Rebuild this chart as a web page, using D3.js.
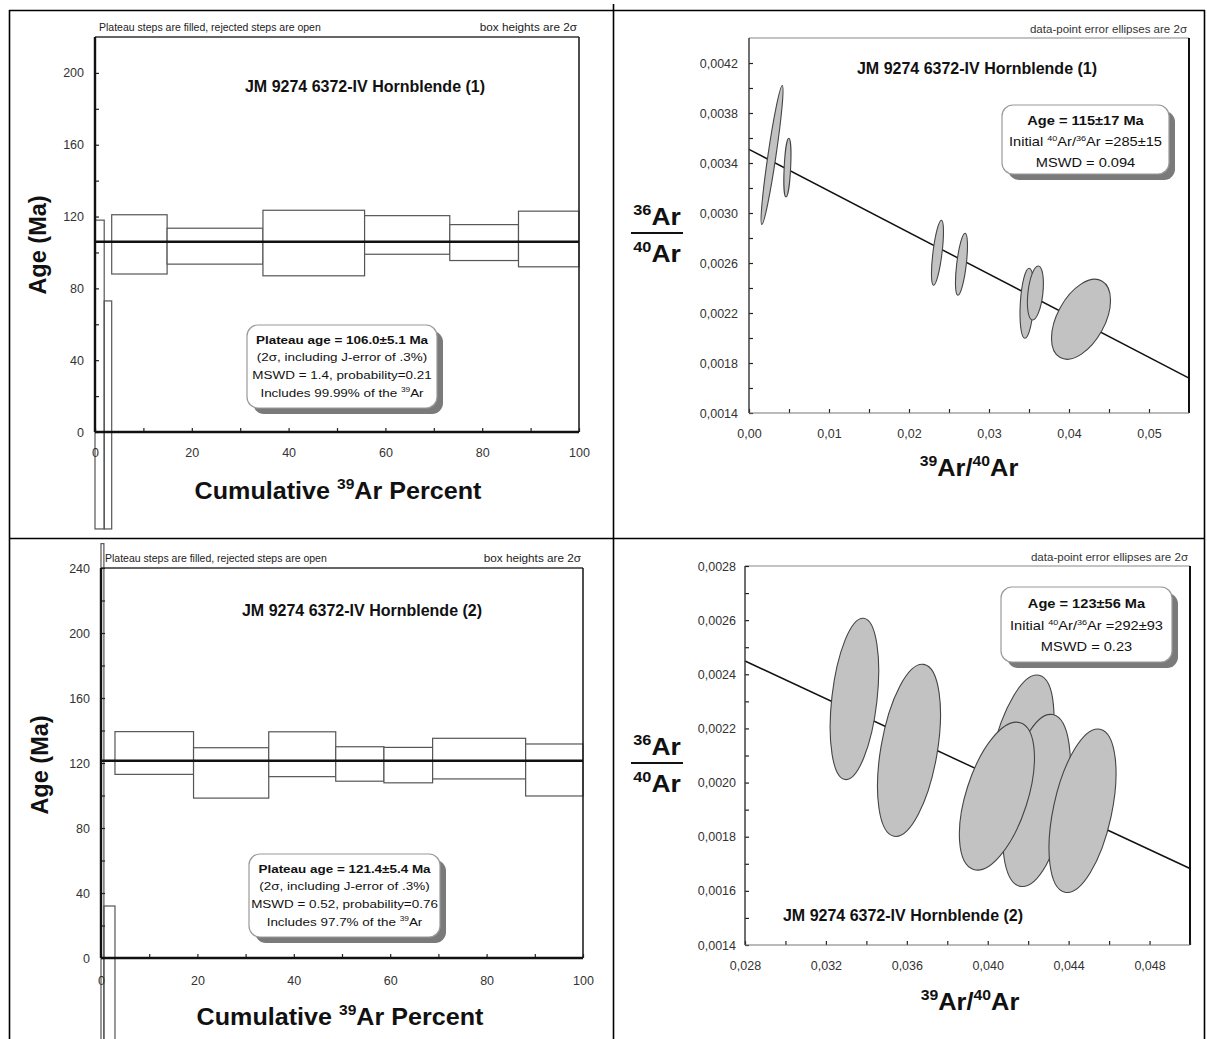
<!DOCTYPE html>
<html>
<head>
<meta charset="utf-8">
<script src="https://cdn.jsdelivr.net/npm/d3@7"></script>
<style>
  body { margin: 0; background: #fff; }
  svg { display: block; }
  text { font-family: "Liberation Sans", Arial, Helvetica, sans-serif; }
</style>
</head>
<body>
<svg id="fig" width="1207" height="1039"></svg>
<script>
// ---------- Step-heating age spectra (cumulative 39Ar %, 2-sigma age bounds in Ma) ----------
const spec1Edges   = [0, 1.9, 3.45, 14.9, 34.7, 55.7, 73.3, 87.5, 100];
const spec1High    = [118, 73, 121, 113.5, 123.5, 120.5, 115.5, 123];
const spec1Low     = [-54, -54, 88, 93.5, 87, 99, 95.5, 92];
const spec1Plateau = [false, false, true, true, true, true, true, true];
const plateauAge1  = 106.0;

const spec2Edges   = [0, 0.6, 2.9, 19.2, 34.8, 48.7, 58.7, 68.8, 88.1, 100];
const spec2High    = [255, 32, 139.3, 129.4, 139.2, 130, 129.6, 135.2, 131.7];
const spec2Low     = [-60, -60, 113, 98.4, 111.6, 108.8, 107.8, 110.2, 99.7];
const spec2Plateau = [false, false, true, true, true, true, true, true, true];
const plateauAge2  = 121.4;

const ageTicks1   = [0, 40, 80, 120, 160, 200];
const ageMinor1   = [20, 60, 100, 140, 180];
const ageTicks2   = [0, 40, 80, 120, 160, 200, 240];
const ageMinor2   = [20, 60, 100, 140, 180, 220];
const cumTicks    = [0, 20, 40, 60, 80, 100];
const cumMinor    = [10, 30, 50, 70, 90];

// ---------- Inverse isochrons (39Ar/40Ar vs 36Ar/40Ar, 2-sigma ellipses) ----------
const iso1X   = [0.00288, 0.0048, 0.02356, 0.02656, 0.03475, 0.0358, 0.0415];
const iso1Y   = [0.003464, 0.003363, 0.002682, 0.00259, 0.002278, 0.00236, 0.00215];
const iso1Ex  = [0.001375, 0.00044, 0.00075, 0.00075, 0.000875, 0.001, 0.00369];
const iso1Ey  = [0.000556, 0.000235, 0.00026, 0.000248, 0.00028, 0.000216, 0.00032];
const iso1Rho = [0.93, 0.4, 0.65, 0.6, 0.3, 0.35, 0.475];
const iso1Initial    = 285;
const iso1XIntercept = 0.1055;
const iso1XTicks = [0, 0.01, 0.02, 0.03, 0.04, 0.05];
const iso1XMinor = [0.005, 0.015, 0.025, 0.035, 0.045];
const iso1YTicks = [0.0014, 0.0018, 0.0022, 0.0026, 0.0030, 0.0034, 0.0038, 0.0042];
const iso1YMinor = [0.0016, 0.0020, 0.0024, 0.0028, 0.0032, 0.0036, 0.0040];

const iso2X   = [0.03341, 0.036108, 0.041596, 0.042412, 0.040454, 0.044686];
const iso2Y   = [0.002309, 0.002119, 0.002083, 0.001934, 0.00195, 0.001896];
const iso2Ex  = [0.0012, 0.001557, 0.00168, 0.001676, 0.001856, 0.001656];
const iso2Ey  = [0.000298, 0.000318, 0.000314, 0.000318, 0.000273, 0.000302];
const iso2Rho = [0.35, 0.42, 0.5, 0.42, 0.52, 0.46];
const iso2Initial    = 292;
const iso2XIntercept = 0.0983;
const iso2XTicks = [0.028, 0.032, 0.036, 0.040, 0.044, 0.048];
const iso2XMinor = [0.030, 0.034, 0.038, 0.042, 0.046, 0.050];
const iso2YTicks = [0.0014, 0.0016, 0.0018, 0.0020, 0.0022, 0.0024, 0.0026, 0.0028];
const iso2YMinor = [0.0015, 0.0017, 0.0019, 0.0021, 0.0023, 0.0025, 0.0027];

// ---------- drawing ----------
const svg = d3.select("#fig");
svg.append("rect").attr("width", 1207).attr("height", 1039).attr("fill", "#fff");

const locale = d3.formatLocale({ decimal: ",", thousands: ".", grouping: [3], currency: ["", ""] });

// text with superscript pieces: parts = ["plain", {sup:"39"}, "Ar"]; optional horizontal stretch sx
function rich(g, x, y, parts, o) {
  const size = o.size;
  const t = g.append("text")
    .attr("text-anchor", o.anchor || "middle")
    .attr("font-size", size)
    .attr("font-weight", o.bold ? "bold" : "normal")
    .attr("fill", o.fill || "#000");
  if (o.sx) t.attr("x", 0).attr("y", 0).attr("transform", `translate(${x},${y}) scale(${o.sx},1)`);
  else t.attr("x", x).attr("y", y);
  let raised = false;
  parts.forEach(p => {
    if (typeof p === "string") {
      const s = t.append("tspan").text(p);
      if (raised) { s.attr("dy", size * 0.42); raised = false; }
    } else {
      t.append("tspan").attr("font-size", size * 0.62).attr("dy", -size * 0.42).text(p.sup);
      raised = true;
    }
  });
  return t;
}

function infoBox(g, x, y, w, h, lines, size, sx) {
  g.append("rect").attr("x", x + 6).attr("y", y + 6).attr("width", w).attr("height", h)
    .attr("rx", 11).attr("fill", "#7a7a7a");
  g.append("rect").attr("x", x).attr("y", y).attr("width", w).attr("height", h)
    .attr("rx", 11).attr("fill", "#fff").attr("stroke", "#9a9a9a").attr("stroke-width", 1.2);
  lines.forEach(l => rich(g, x + w / 2, l.y, l.parts, { size: size, bold: l.bold, fill: "#111", sx: sx }));
}

function styleAxis(sel, fontSize) {
  sel.select(".domain").remove();
  sel.selectAll(".tick line").attr("stroke", "#222").attr("stroke-width", 1.2);
  sel.selectAll(".tick text").attr("fill", "#333").attr("font-size", fontSize)
    .attr("font-family", "'Liberation Sans', Arial, sans-serif");
}

function spectrumPanel(c) {
  const g = svg.append("g");
  const x = d3.scaleLinear().domain([0, 100]).range([c.x0, c.x1]);
  const y = d3.scaleLinear().domain(c.yDomain).range([c.y1, c.y0]);

  // step boxes
  const steps = c.high.map((hi, i) => ({ x0: c.edges[i], x1: c.edges[i + 1], hi: hi, lo: c.low[i], plateau: c.plateau[i] }));
  g.selectAll("rect.step").data(steps).join("rect")
    .attr("class", "step")
    .attr("x", d => x(d.x0)).attr("width", d => x(d.x1) - x(d.x0))
    .attr("y", d => y(d.hi)).attr("height", d => y(d.lo) - y(d.hi))
    .attr("fill", d => d.plateau ? "#fff" : "none")
    .attr("stroke", "#555").attr("stroke-width", 1.2);

  // frame (top and right) and axes
  g.append("line").attr("x1", c.x0).attr("x2", c.x1).attr("y1", c.y0).attr("y2", c.y0)
    .attr("stroke", "#333").attr("stroke-width", 1.3);
  g.append("line").attr("x1", c.x1).attr("x2", c.x1).attr("y1", c.y0).attr("y2", c.y1)
    .attr("stroke", "#222").attr("stroke-width", 1.6);

  const ya = g.append("g").attr("transform", `translate(${c.x0},0)`)
    .call(d3.axisLeft(y).tickValues(c.yTicks).tickSize(-4).tickPadding(11).tickFormat(d3.format("d")));
  styleAxis(ya, 12.5);
  const ym = g.append("g").attr("transform", `translate(${c.x0},0)`)
    .call(d3.axisLeft(y).tickValues(c.yMinor).tickSize(-4).tickFormat(""));
  styleAxis(ym, 12);
  const xa = g.append("g").attr("transform", `translate(0,${c.y1})`)
    .call(d3.axisBottom(x).tickValues(cumTicks).tickSize(-4).tickPadding(c.xPad).tickFormat(d3.format("d")));
  styleAxis(xa, 12.5);
  const xm = g.append("g").attr("transform", `translate(0,${c.y1})`)
    .call(d3.axisBottom(x).tickValues(cumMinor).tickSize(-4).tickFormat(""));
  styleAxis(xm, 12);

  g.append("line").attr("x1", c.x0).attr("x2", c.x0).attr("y1", c.y0).attr("y2", c.y1)
    .attr("stroke", "#111").attr("stroke-width", 2.4);
  g.append("line").attr("x1", c.x0).attr("x2", c.x1).attr("y1", c.y1).attr("y2", c.y1)
    .attr("stroke", "#111").attr("stroke-width", 2.4);

  // plateau age
  g.append("line").attr("x1", x(0)).attr("x2", x(100))
    .attr("y1", y(c.plateauAge)).attr("y2", y(c.plateauAge))
    .attr("stroke", "#111").attr("stroke-width", 2.4);

  // notes and titles
  g.append("text").attr("x", c.x0 + 4).attr("y", c.y0 - 6).attr("font-size", 10.5).attr("fill", "#222")
    .text("Plateau steps are filled, rejected steps are open");
  rich(g, c.x1 - 2, c.y0 - 6, ["box heights are 2\u03c3"], { size: 10.5, anchor: "end", fill: "#222", sx: 1.12 });
  g.append("text").attr("x", c.titleX).attr("y", c.titleY).attr("text-anchor", "middle")
    .attr("font-size", 16).attr("font-weight", "bold").attr("fill", "#111").text(c.title);

  g.append("text").attr("transform", `translate(${c.yLabelX},${c.yLabelY}) rotate(-90)`)
    .attr("text-anchor", "middle").attr("font-size", 23.5).attr("font-weight", "bold")
    .attr("fill", "#111").text("Age (Ma)");
  rich(g, c.xLabelX, c.xLabelY, ["Cumulative ", { sup: "39" }, "Ar Percent"], { size: 23.5, bold: true, fill: "#111", sx: 1.07 });

  infoBox(g, c.box[0], c.box[1], c.box[2], c.box[3], c.boxLines, 11.5, 1.17);
}

function isochronPanel(c) {
  const g = svg.append("g");
  const x = d3.scaleLinear().domain(c.xDomain).range([c.x0, c.x1]);
  const y = d3.scaleLinear().domain(c.yDomain).range([c.y1, c.y0]);

  // isochron regression line
  const b0 = 1 / c.initial;
  const fit = v => b0 * (1 - v / c.xIntercept);
  g.append("line")
    .attr("x1", x(c.xDomain[0])).attr("y1", y(fit(c.xDomain[0])))
    .attr("x2", x(c.xDomain[1])).attr("y2", y(fit(c.xDomain[1])))
    .attr("stroke", "#111").attr("stroke-width", 1.5);

  // error ellipses from 2-sigma half-widths and error correlation
  const kx = (c.x1 - c.x0) / (c.xDomain[1] - c.xDomain[0]);
  const ky = (c.y1 - c.y0) / (c.yDomain[1] - c.yDomain[0]);
  const ells = c.X.map((vx, i) => {
    const a = Math.pow(c.Ex[i] * kx, 2);
    const d = Math.pow(c.Ey[i] * ky, 2);
    const bc = -c.Rho[i] * c.Ex[i] * kx * c.Ey[i] * ky;
    const m = (a + d) / 2, r = Math.sqrt(Math.pow((a - d) / 2, 2) + bc * bc);
    const th = 0.5 * Math.atan2(2 * bc, a - d) * 180 / Math.PI;
    return { cx: x(vx), cy: y(c.Y[i]), rx: Math.sqrt(m + r), ry: Math.sqrt(Math.max(m - r, 0.5)), th: th };
  });
  g.selectAll("ellipse").data(ells).join("ellipse")
    .attr("cx", d => d.cx).attr("cy", d => d.cy).attr("rx", d => d.rx).attr("ry", d => d.ry)
    .attr("transform", d => `rotate(${d.th},${d.cx},${d.cy})`)
    .attr("fill", "#c2c2c2").attr("stroke", "#444").attr("stroke-width", 1.1);

  // frame and axes
  g.append("line").attr("x1", c.x0).attr("x2", c.x1).attr("y1", c.y0).attr("y2", c.y0)
    .attr("stroke", "#888").attr("stroke-width", 1.2);
  g.append("line").attr("x1", c.x1).attr("x2", c.x1).attr("y1", c.y0).attr("y2", c.y1)
    .attr("stroke", "#111").attr("stroke-width", 2);

  const ya = g.append("g").attr("transform", `translate(${c.x0},0)`)
    .call(d3.axisLeft(y).tickValues(c.yTicks).tickSize(-4).tickPadding(c.yPad).tickFormat(locale.format(".4f")));
  styleAxis(ya, 12.5);
  const ym = g.append("g").attr("transform", `translate(${c.x0},0)`)
    .call(d3.axisLeft(y).tickValues(c.yMinor).tickSize(-4).tickFormat(""));
  styleAxis(ym, 11);
  const xa = g.append("g").attr("transform", `translate(0,${c.y1})`)
    .call(d3.axisBottom(x).tickValues(c.xTicks).tickSize(-4).tickPadding(16).tickFormat(locale.format(c.xFmt)));
  styleAxis(xa, 12.5);
  const xm = g.append("g").attr("transform", `translate(0,${c.y1})`)
    .call(d3.axisBottom(x).tickValues(c.xMinor).tickSize(-4).tickFormat(""));
  styleAxis(xm, 11);

  g.append("line").attr("x1", c.x0).attr("x2", c.x0).attr("y1", c.y0).attr("y2", c.y1)
    .attr("stroke", "#333").attr("stroke-width", 1.4);
  g.append("line").attr("x1", c.x0).attr("x2", c.x1).attr("y1", c.y1).attr("y2", c.y1)
    .attr("stroke", "#777").attr("stroke-width", 1.2);

  // labels
  rich(g, c.x1 - 2, c.y0 - 5, ["data-point error ellipses are 2\u03c3"], { size: 10.5, anchor: "end", fill: "#333", sx: 1.1 });
  g.append("text").attr("x", c.titleX).attr("y", c.titleY).attr("text-anchor", "middle")
    .attr("font-size", 16).attr("font-weight", "bold").attr("fill", "#111").text(c.title);

  rich(g, c.fracX, c.fracY - 8, [{ sup: "36" }, "Ar"], { size: 24, bold: true, fill: "#111", sx: 1.1 });
  g.append("line").attr("x1", c.fracX - 26).attr("x2", c.fracX + 26).attr("y1", c.fracY).attr("y2", c.fracY)
    .attr("stroke", "#111").attr("stroke-width", 2.2);
  rich(g, c.fracX, c.fracY + 29, [{ sup: "40" }, "Ar"], { size: 24, bold: true, fill: "#111", sx: 1.1 });
  rich(g, c.xLabelX, c.xLabelY, [{ sup: "39" }, "Ar/", { sup: "40" }, "Ar"], { size: 24, bold: true, fill: "#111", sx: 1.06 });

  infoBox(g, c.box[0], c.box[1], c.box[2], c.box[3], c.boxLines, 12.5, 1.17);
}

// table rules separating the four figures
const rules = svg.append("g").attr("stroke", "#000").attr("stroke-width", 1.6);
rules.append("line").attr("x1", 9).attr("x2", 1205).attr("y1", 10.5).attr("y2", 10.5);
rules.append("line").attr("x1", 9).attr("x2", 1205).attr("y1", 538.5).attr("y2", 538.5);
rules.append("line").attr("x1", 9.5).attr("x2", 9.5).attr("y1", 10).attr("y2", 1039);
rules.append("line").attr("x1", 613.5).attr("x2", 613.5).attr("y1", 4).attr("y2", 1039);
rules.append("line").attr("x1", 1204.5).attr("x2", 1204.5).attr("y1", 10).attr("y2", 1039);

spectrumPanel({
  x0: 95, x1: 579, y0: 37, y1: 432, yDomain: [0, 220],
  edges: spec1Edges, high: spec1High, low: spec1Low, plateau: spec1Plateau, plateauAge: plateauAge1,
  yTicks: ageTicks1, yMinor: ageMinor1, xPad: 16,
  title: "JM 9274 6372-IV Hornblende (1)", titleX: 365, titleY: 92,
  yLabelX: 46, yLabelY: 245, xLabelX: 338, xLabelY: 499,
  box: [247, 325, 190, 83],
  boxLines: [
    { y: 344, bold: true, parts: ["Plateau age = 106.0\u00b15.1 Ma"] },
    { y: 361, parts: ["(2\u03c3, including J-error of .3%)"] },
    { y: 379, parts: ["MSWD = 1.4, probability=0.21"] },
    { y: 397, parts: ["Includes 99.99% of the ", { sup: "39" }, "Ar"] }
  ]
});

spectrumPanel({
  x0: 101, x1: 583, y0: 568, y1: 958, yDomain: [0, 240],
  edges: spec2Edges, high: spec2High, low: spec2Low, plateau: spec2Plateau, plateauAge: plateauAge2,
  yTicks: ageTicks2, yMinor: ageMinor2, xPad: 18,
  title: "JM 9274  6372-IV Hornblende (2)", titleX: 362, titleY: 616,
  yLabelX: 48, yLabelY: 765, xLabelX: 340, xLabelY: 1025,
  box: [249, 854, 191, 83],
  boxLines: [
    { y: 873, bold: true, parts: ["Plateau age = 121.4\u00b15.4 Ma"] },
    { y: 890, parts: ["(2\u03c3, including J-error of .3%)"] },
    { y: 908, parts: ["MSWD = 0.52, probability=0.76"] },
    { y: 926, parts: ["Includes 97.7% of the ", { sup: "39" }, "Ar"] }
  ]
});

isochronPanel({
  x0: 749, x1: 1189, y0: 38, y1: 413, xDomain: [0, 0.055], yDomain: [0.0014, 0.0044],
  X: iso1X, Y: iso1Y, Ex: iso1Ex, Ey: iso1Ey, Rho: iso1Rho,
  initial: iso1Initial, xIntercept: iso1XIntercept,
  xTicks: iso1XTicks, xMinor: iso1XMinor, yTicks: iso1YTicks, yMinor: iso1YMinor,
  xFmt: ".2f", yPad: 11,
  title: "JM 9274 6372-IV Hornblende (1)", titleX: 977, titleY: 74,
  fracX: 657, fracY: 233, xLabelX: 969, xLabelY: 476,
  box: [1002, 105, 167, 69],
  boxLines: [
    { y: 125, bold: true, parts: ["Age = 115\u00b117 Ma"] },
    { y: 146, parts: ["Initial ", { sup: "40" }, "Ar/", { sup: "36" }, "Ar =285\u00b115"] },
    { y: 167, parts: ["MSWD = 0.094"] }
  ]
});

isochronPanel({
  x0: 745, x1: 1190, y0: 566, y1: 945, xDomain: [0.028, 0.050], yDomain: [0.0014, 0.0028],
  X: iso2X, Y: iso2Y, Ex: iso2Ex, Ey: iso2Ey, Rho: iso2Rho,
  initial: iso2Initial, xIntercept: iso2XIntercept,
  xTicks: iso2XTicks, xMinor: iso2XMinor, yTicks: iso2YTicks, yMinor: iso2YMinor,
  xFmt: ".3f", yPad: 9,
  title: "JM 9274  6372-IV Hornblende (2)", titleX: 903, titleY: 921,
  fracX: 657, fracY: 763, xLabelX: 970, xLabelY: 1010,
  box: [1001, 587, 171, 75],
  boxLines: [
    { y: 608, bold: true, parts: ["Age = 123\u00b156 Ma"] },
    { y: 630, parts: ["Initial ", { sup: "40" }, "Ar/", { sup: "36" }, "Ar =292\u00b193"] },
    { y: 651, parts: ["MSWD = 0.23"] }
  ]
});
</script>
</body>
</html>
